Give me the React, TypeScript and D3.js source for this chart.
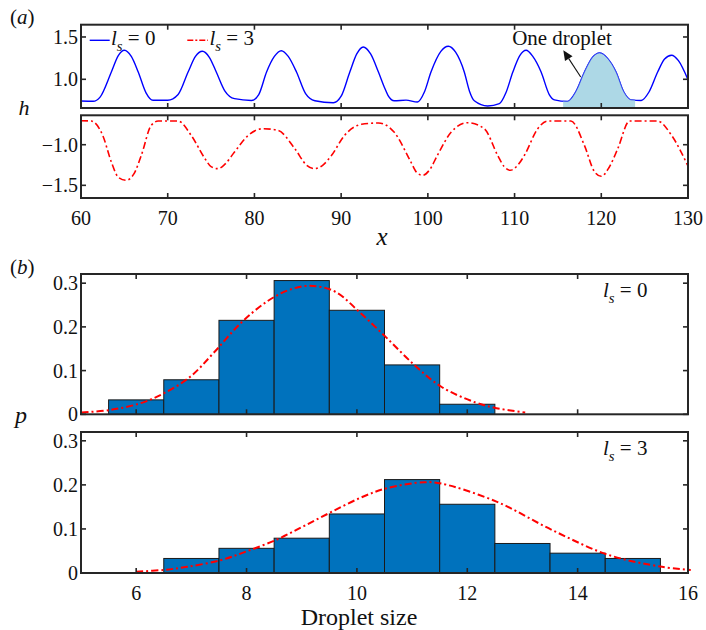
import React from 'react';
import * as d3 from 'd3';

// ---------- DATA ----------
const waveLs0: [number, number][] = [
  [60.0, 0.743], [61.4, 0.74], [62.2, 0.79], [63.5, 1.086], [64.3, 1.28], [65.0, 1.343], [65.8, 1.27],
  [66.6, 1.086], [67.5, 0.84], [68.3, 0.752], [70.0, 0.752], [71.2, 0.82], [72.35, 1.086], [73.2, 1.27],
  [74.0, 1.331], [74.8, 1.26], [75.6, 1.086], [76.6, 0.86], [77.7, 0.771], [79.66, 0.75], [80.5, 0.82],
  [81.4, 1.086], [82.3, 1.27], [83.1, 1.338], [83.9, 1.27], [84.85, 1.086], [85.9, 0.83], [86.97, 0.747],
  [89.1, 0.723], [90.0, 0.8], [91.0, 1.086], [91.8, 1.3], [92.55, 1.382], [93.4, 1.3], [94.3, 1.086],
  [94.97, 0.909], [95.4, 0.811], [96.13, 0.746], [97.48, 0.754], [98.8, 0.732], [99.6, 0.85], [100.36, 1.086],
  [101.5, 1.33], [102.36, 1.39], [103.2, 1.32], [104.2, 1.086], [104.8, 0.86], [105.36, 0.746], [106.9, 0.684],
  [108.25, 0.712], [109.0, 0.84], [109.8, 1.086], [110.6, 1.28], [111.33, 1.343], [112.1, 1.27], [113.06, 1.086],
  [114.0, 0.82], [114.6, 0.757], [116.1, 0.739], [117.1, 0.86], [118.06, 1.086], [119.0, 1.26], [119.8, 1.311],
  [120.7, 1.25], [121.7, 1.086], [122.6, 0.85], [123.45, 0.757], [124.6, 0.75], [125.5, 0.85], [126.5, 1.086],
  [127.3, 1.24], [128.1, 1.284], [128.9, 1.22], [129.95, 1.007],
];

const waveLs3: [number, number][] = [
  [60.0, -0.705], [61.2, -0.709], [62.5, -0.884], [63.5, -1.213], [64.3, -1.4], [65.2, -1.438], [66.1, -1.36],
  [66.96, -1.13], [68.1, -0.761], [68.9, -0.709], [71.2, -0.709], [72.7, -0.884], [74.3, -1.172], [75.0, -1.27],
  [75.8, -1.295], [76.6, -1.24], [77.7, -1.09], [79.3, -0.884], [81.0, -0.803], [82.7, -0.823], [84.66, -1.049],
  [86.0, -1.25], [86.97, -1.295], [87.9, -1.25], [88.9, -1.13], [90.4, -0.884], [92.35, -0.749], [94.3, -0.733],
  [95.2, -0.76], [96.1, -0.844], [98.05, -1.213], [98.7, -1.34], [99.4, -1.377], [100.2, -1.31], [101.1, -1.13],
  [102.7, -0.844], [104.6, -0.729], [106.5, -0.803], [108.05, -1.13], [108.8, -1.27], [109.5, -1.315],
  [110.3, -1.26], [111.14, -1.13], [112.67, -0.803], [113.8, -0.709], [116.5, -0.709], [118.05, -1.007],
  [119.2, -1.33], [119.98, -1.389], [120.9, -1.28], [121.9, -1.049], [123.25, -0.709], [126.5, -0.709],
  [128.1, -0.884], [129.95, -1.253],
];

const dropletRange: [number, number] = [115.6, 123.9];

const binsLs0 = [6, 7, 8, 9, 10, 11, 12];
const probLs0 = [0.033, 0.079, 0.215, 0.306, 0.238, 0.113, 0.023];
const binsLs3 = [7, 8, 9, 10, 11, 12, 13, 14, 15];
const probLs3 = [0.033, 0.056, 0.079, 0.134, 0.212, 0.156, 0.067, 0.045, 0.033];

const fitLs0: [number, number][] = [
  [5.01, 0.004], [5.53, 0.01], [6.07, 0.025], [6.5, 0.048], [6.98, 0.086], [7.4, 0.14], [7.89, 0.208],
  [8.37, 0.258], [8.76, 0.284], [9.15, 0.294], [9.6, 0.281], [10.07, 0.231], [10.53, 0.176], [11.04, 0.113],
  [11.53, 0.063], [12.15, 0.027], [12.53, 0.014], [13.05, 0.004],
];
const fitLs3: [number, number][] = [
  [6.0, 0.003], [6.5, 0.007], [6.92, 0.014], [7.53, 0.029], [8.0, 0.049], [8.55, 0.076], [9.03, 0.106],
  [9.53, 0.138], [10.07, 0.171], [10.53, 0.192], [11.22, 0.206], [11.53, 0.203], [12.53, 0.162],
  [13.53, 0.098], [14.56, 0.041], [15.53, 0.014], [16.05, 0.007],
];

const xTicksA = [60, 70, 80, 90, 100, 110, 120, 130];
const yTicksA1 = [1.0, 1.5];
const yTicksA2 = [-1.0, -1.5];
const xTicksB = [6, 8, 10, 12, 14, 16];
const yTicksB = [0, 0.1, 0.2, 0.3];

// ---------- LAYOUT ----------
const W = 706, H = 630;
const L = 81, R = 688;
const FONT = "'Liberation Serif', 'Times New Roman', 'DejaVu Serif', serif";
const AX = '#262626';
const TICK = 20;

type Lin = d3.ScaleLinear<number, number>;

function Frame({ x, y, xTicks, yTicks, xLabels, yFmt }: {
  x: Lin; y: Lin; xTicks: number[]; yTicks: number[]; xLabels: boolean; yFmt: (v: number) => string;
}) {
  const [x0, x1] = x.range();
  const [y0, y1] = y.range(); // y0 bottom, y1 top
  const tl = 5;
  return (
    <g>
      {xTicks.map((t) => (
        <g key={'x' + t}>
          <line x1={x(t)} x2={x(t)} y1={y0} y2={y0 - tl} stroke={AX} strokeWidth={1.6} />
          <line x1={x(t)} x2={x(t)} y1={y1} y2={y1 + tl} stroke={AX} strokeWidth={1.6} />
          {xLabels && (
            <text x={x(t)} y={y0 + 27} textAnchor="middle" fontFamily={FONT} fontSize={TICK} fill="#111">{t}</text>
          )}
        </g>
      ))}
      {yTicks.map((t) => (
        <g key={'y' + t}>
          <line x1={x0} x2={x0 + tl} y1={y(t)} y2={y(t)} stroke={AX} strokeWidth={1.6} />
          <line x1={x1} x2={x1 - tl} y1={y(t)} y2={y(t)} stroke={AX} strokeWidth={1.6} />
          <text x={x0 - 3} y={y(t)} dy="0.35em" textAnchor="end" fontFamily={FONT} fontSize={TICK} fill="#111">{yFmt(t)}</text>
        </g>
      ))}
      <rect x={x0} y={y1} width={x1 - x0} height={y0 - y1} fill="none" stroke={AX} strokeWidth={2} />
    </g>
  );
}

function LsLabel({ x, y, v, size = 21 }: { x: number; y: number; v: string; size?: number }) {
  return (
    <text x={x} y={y} fontFamily={FONT} fontSize={size} fill="#111">
      <tspan fontStyle="italic">l</tspan>
      <tspan fontStyle="italic" fontSize={size * 0.7} dy={6}>s</tspan>
      <tspan dy={-6}> = {v}</tspan>
    </text>
  );
}

export default function App() {
  const xA = d3.scaleLinear().domain([60, 130]).range([L, R]);
  const yA1 = d3.scaleLinear().domain([0.661, 1.645]).range([108, 24.7]);
  const yA2 = d3.scaleLinear().domain([-1.656, -0.638]).range([198, 115.3]);
  const xB = d3.scaleLinear().domain([5, 16]).range([L, R]);
  const yB1 = d3.scaleLinear().domain([0, 0.321]).range([414.3, 274]);
  const yB2 = d3.scaleLinear().domain([0, 0.32]).range([573, 432]);

  const lineA1 = d3.line<[number, number]>().x((d) => xA(d[0])).y((d) => yA1(d[1])).curve(d3.curveMonotoneX);
  const areaA1 = d3.area<[number, number]>().x((d) => xA(d[0])).y0(yA1.range()[0]).y1((d) => yA1(d[1])).curve(d3.curveMonotoneX);
  const lineA2 = d3.line<[number, number]>().x((d) => xA(d[0])).y((d) => yA2(d[1])).curve(d3.curveMonotoneX);
  const fit1 = d3.line<[number, number]>().x((d) => xB(d[0])).y((d) => yB1(d[1])).curve(d3.curveCatmullRom);
  const fit2 = d3.line<[number, number]>().x((d) => xB(d[0])).y((d) => yB2(d[1])).curve(d3.curveCatmullRom);

  const f1 = d3.format('.1f');
  const fB = (v: number) => (v === 0 ? '0' : d3.format('.1f')(v));

  const dash = '7,3,2,3';

  // annotation in data coordinates
  const arrowTail = [117.63, 1.027];
  const arrowHead = [115.62, 1.343];
  const hx = xA(arrowHead[0]), hy = yA1(arrowHead[1]);
  const tx = xA(arrowTail[0]), ty = yA1(arrowTail[1]);
  const ang = Math.atan2(hy - ty, hx - tx);
  const ah = 10, aw = 4.5;
  const bx = hx - ah * Math.cos(ang), by = hy - ah * Math.sin(ang);
  const headPts = [
    [hx, hy],
    [bx + aw * Math.sin(ang), by - aw * Math.cos(ang)],
    [bx - aw * Math.sin(ang), by + aw * Math.cos(ang)],
  ].map((p) => p.join(',')).join(' ');

  return (
    <svg width={W} height={H} style={{ position: 'absolute', left: 0, top: 0, background: '#fff' }}>
      <defs>
        <clipPath id="dropClip">
          <rect x={xA(dropletRange[0])} y={0} width={xA(dropletRange[1]) - xA(dropletRange[0])} height={200} />
        </clipPath>
        <clipPath id="a1Clip"><rect x={L} y={24.7} width={R - L} height={108 - 24.7} /></clipPath>
        <clipPath id="a2Clip"><rect x={L} y={115.3} width={R - L} height={198 - 115.3} /></clipPath>
      </defs>
      <rect x={0} y={0} width={W} height={H} fill="#fff" />

      {/* ---- panel (a) top ---- */}
      <g clipPath="url(#a1Clip)">
        <path d={lineA1(waveLs0) || ''} fill="none" stroke="#0000ff" strokeWidth={1.4} />
        <path d={areaA1(waveLs0) || ''} clipPath="url(#dropClip)" fill="#add8e6" stroke="#3a55e8" strokeWidth={0.8} />
      </g>
      <Frame x={xA} y={yA1} xTicks={xTicksA} yTicks={yTicksA1} xLabels={false} yFmt={f1} />
      {/* legend */}
      <line x1={89.7} x2={109.7} y1={40.3} y2={40.3} stroke="#0000ff" strokeWidth={1.4} />
      <LsLabel x={111} y={45} v="0" />
      <line x1={187.3} x2={208} y1={40.3} y2={40.3} stroke="#ff0000" strokeWidth={1.6} strokeDasharray="6,2,2,2" />
      <LsLabel x={209.5} y={45} v="3" />
      {/* annotation */}
      <text x={xA(115.47)} y={yA1(1.405)} textAnchor="middle" fontFamily={FONT} fontSize={21} fill="#111">One droplet</text>
      <line x1={tx} y1={ty} x2={bx} y2={by} stroke="#111" strokeWidth={1.1} />
      <polygon points={headPts} fill="#111" />

      {/* ---- panel (a) bottom ---- */}
      <g clipPath="url(#a2Clip)">
        <path d={lineA2(waveLs3) || ''} fill="none" stroke="#ff0000" strokeWidth={1.6} strokeDasharray={dash} />
      </g>
      <Frame x={xA} y={yA2} xTicks={xTicksA} yTicks={yTicksA2} xLabels={true} yFmt={f1} />

      <text x={10} y={24} fontFamily={FONT} fontSize={21} fill="#111">(<tspan fontStyle="italic">a</tspan>)</text>
      <text x={24} y={115} textAnchor="middle" fontFamily={FONT} fontSize={22} fontStyle="italic" fill="#111">h</text>
      <text x={382} y={245} textAnchor="middle" fontFamily={FONT} fontSize={25} fontStyle="italic" fill="#111">x</text>

      {/* ---- panel (b) top ---- */}
      {binsLs0.map((c, i) => (
        <rect key={'b0' + c} x={xB(c - 0.5)} y={yB1(probLs0[i])} width={xB(c + 0.5) - xB(c - 0.5)}
          height={yB1(0) - yB1(probLs0[i])} fill="#0072bd" stroke="#1a1a1a" strokeWidth={1} />
      ))}
      <path d={fit1(fitLs0) || ''} fill="none" stroke="#ff0000" strokeWidth={2} strokeDasharray={dash} />
      <Frame x={xB} y={yB1} xTicks={xTicksB} yTicks={yTicksB} xLabels={false} yFmt={fB} />
      <LsLabel x={603} y={296.7} v="0" />

      {/* ---- panel (b) bottom ---- */}
      {binsLs3.map((c, i) => (
        <rect key={'b3' + c} x={xB(c - 0.5)} y={yB2(probLs3[i])} width={xB(c + 0.5) - xB(c - 0.5)}
          height={yB2(0) - yB2(probLs3[i])} fill="#0072bd" stroke="#1a1a1a" strokeWidth={1} />
      ))}
      <path d={fit2(fitLs3) || ''} fill="none" stroke="#ff0000" strokeWidth={2} strokeDasharray={dash} />
      <Frame x={xB} y={yB2} xTicks={xTicksB} yTicks={yTicksB} xLabels={true} yFmt={fB} />
      <LsLabel x={603} y={455} v="3" />

      <text x={10} y={274} fontFamily={FONT} fontSize={21} fill="#111">(<tspan fontStyle="italic">b</tspan>)</text>
      <text x={21} y={423} textAnchor="middle" fontFamily={FONT} fontSize={24} fontStyle="italic" fill="#111">p</text>
      <text x={359} y={625} textAnchor="middle" fontFamily={FONT} fontSize={24} fill="#111">Droplet size</text>
    </svg>
  );
}
